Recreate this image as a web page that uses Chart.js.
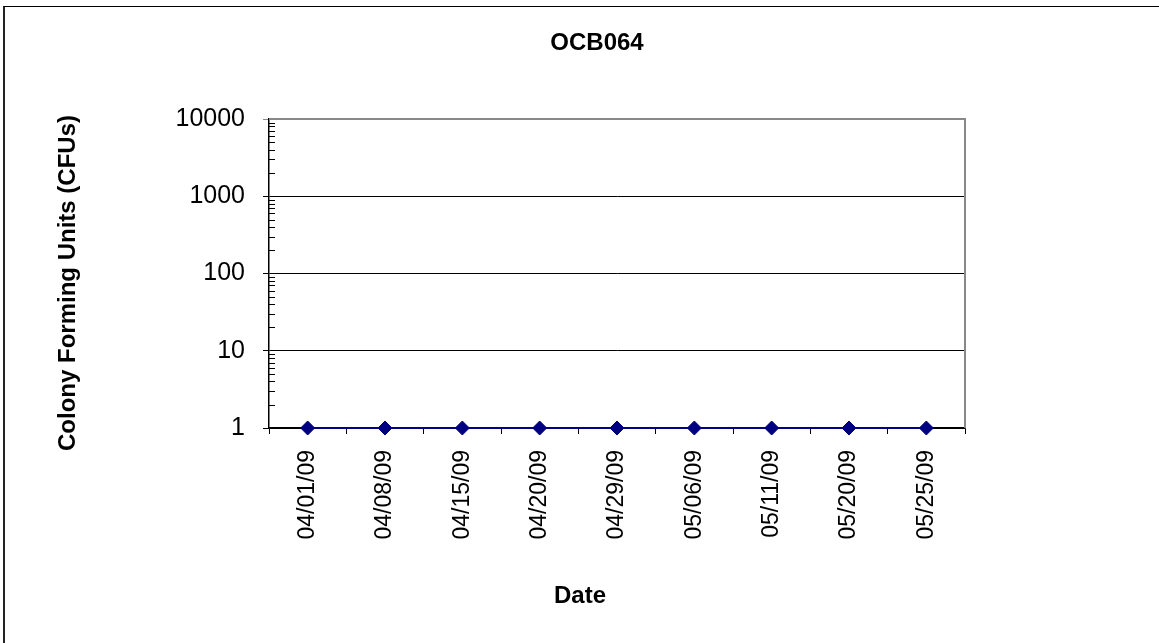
<!DOCTYPE html>
<html>
<head>
<meta charset="utf-8">
<script src="https://cdn.jsdelivr.net/npm/chart.js@4/dist/chart.umd.min.js"></script>
<style>
  html, body { margin: 0; padding: 0; background: #fff; overflow: hidden; }
  #wrap { position: relative; width: 1159px; height: 643px; overflow: hidden; }
  #frame {
    position: absolute; left: 3px; top: 6px; width: 1300px; height: 800px;
    border-left: 2px solid #222; border-top: 1px solid #000; box-sizing: border-box;
  }
  #c { position: absolute; left: 0; top: 0; }
</style>
</head>
<body>
<div id="wrap">
  <div id="frame"></div>
  <canvas id="c" width="1159" height="643"></canvas>
</div>
<script>
// Sampling dates and colony counts for site OCB064
const sampleDates = ['04/01/09', '04/08/09', '04/15/09', '04/20/09', '04/29/09', '05/06/09', '05/11/09', '05/20/09', '05/25/09'];
const colonyCounts = [1, 1, 1, 1, 1, 1, 1, 1, 1];
const yTickValues = [1, 10, 100, 1000, 10000];

const chartTitle = 'OCB064';
const xTitle = 'Date';
const yTitle = 'Colony Forming Units (CFUs)';

const FONT = "'Liberation Sans', Arial, sans-serif";

// Plot frame, log minor ticks and the chart/axis titles
const decorations = {
  id: 'decorations',
  beforeDatasetsDraw(chart) {
    const { ctx, chartArea: a, scales: { y } } = chart;
    ctx.save();
    ctx.strokeStyle = '#888';
    ctx.lineWidth = 2;
    ctx.beginPath();
    ctx.moveTo(a.left, a.top);
    ctx.lineTo(a.right, a.top);
    ctx.lineTo(a.right, a.bottom);
    ctx.stroke();

    ctx.strokeStyle = '#000';
    ctx.lineWidth = 1;
    ctx.beginPath();
    for (let d = 0; d < yTickValues.length - 1; d++) {
      for (let m = 2; m <= 9; m++) {
        const py = Math.round(y.getPixelForValue(yTickValues[d] * m)) + 0.5;
        ctx.moveTo(a.left, py);
        ctx.lineTo(a.left + 6, py);
      }
    }
    ctx.stroke();
    ctx.restore();
  },
  afterDraw(chart) {
    const { ctx } = chart;
    ctx.save();
    ctx.fillStyle = '#000';
    ctx.textAlign = 'center';
    ctx.textBaseline = 'middle';
    ctx.font = 'bold 24px ' + FONT;
    ctx.fillText(chartTitle, 597, 43);
    ctx.fillText(xTitle, 580, 596);
    ctx.translate(68, 283);
    ctx.rotate(-Math.PI / 2);
    ctx.fillText(yTitle, 0, 0);
    ctx.restore();
  }
};

new Chart(document.getElementById('c'), {
  type: 'line',
  data: {
    labels: sampleDates,
    datasets: [{
      data: colonyCounts,
      borderColor: '#000080',
      backgroundColor: '#000080',
      borderWidth: 2,
      pointStyle: 'rectRot',
      pointRadius: 7,
      pointBorderWidth: 1,
      pointBorderColor: '#000080',
      pointBackgroundColor: '#000080',
      tension: 0,
      clip: false
    }]
  },
  options: {
    responsive: false,
    devicePixelRatio: 1,
    animation: false,
    layout: { padding: { left: 0, top: 119, right: 194, bottom: 0 } },
    plugins: {
      legend: { display: false },
      title: { display: false },
      tooltip: { enabled: false }
    },
    scales: {
      x: {
        type: 'category',
        offset: true,
        afterFit(scale) { scale.height = 215; },
        grid: {
          display: true,
          offset: true,
          drawOnChartArea: false,
          drawTicks: true,
          tickLength: 6,
          color: '#000',
          lineWidth: 1
        },
        border: { display: true, color: '#000', width: 1.5 },
        ticks: {
          minRotation: 90,
          maxRotation: 90,
          autoSkip: false,
          padding: 16,
          color: '#000',
          font: { family: FONT, size: 23 }
        }
      },
      y: {
        type: 'logarithmic',
        min: 1,
        max: 10000,
        afterFit(scale) { scale.width = 269; },
        afterBuildTicks(scale) {
          scale.ticks = yTickValues.map(v => ({ value: v, major: true }));
        },
        grid: {
          display: true,
          drawTicks: true,
          tickLength: 6,
          color: ctx => (ctx.tick && ctx.tick.value === 10000 ? '#888' : '#000'),
          lineWidth: 1
        },
        border: { display: true, color: '#000', width: 1.5 },
        ticks: {
          padding: 18,
          color: '#000',
          font: { family: FONT, size: 25 },
          callback: v => String(v)
        }
      }
    }
  },
  plugins: [decorations]
});
</script>
</body>
</html>
